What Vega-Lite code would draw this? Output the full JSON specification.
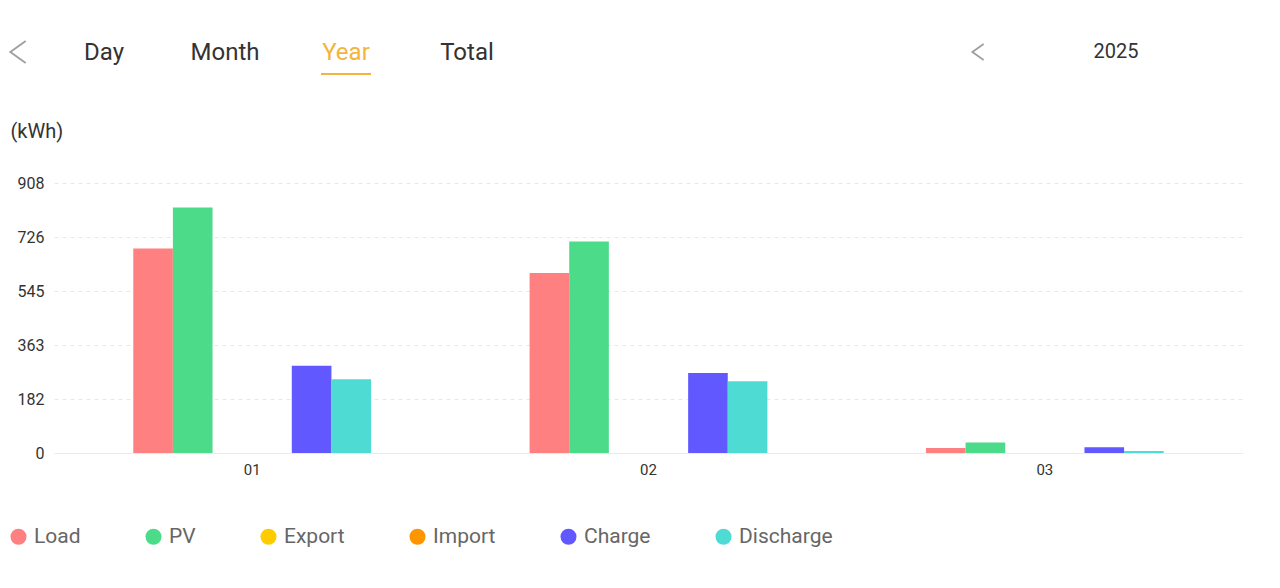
{
  "$schema": "https://vega.github.io/schema/vega-lite/v6.json",
  "width": 1189,
  "height": 270,
  "autosize": {"type": "none"},
  "padding": {"left": 54, "top": 183, "right": 37, "bottom": 135},
  "background": "#ffffff",
  "config": {"font": "Roboto", "view": {"stroke": null}},
  "datasets": {
    "energy": [
      {"month": "01", "series": "Load", "value": 688},
      {"month": "01", "series": "PV", "value": 826},
      {"month": "01", "series": "Export", "value": 0},
      {"month": "01", "series": "Import", "value": 0},
      {"month": "01", "series": "Charge", "value": 293},
      {"month": "01", "series": "Discharge", "value": 248},
      {"month": "02", "series": "Load", "value": 605},
      {"month": "02", "series": "PV", "value": 711},
      {"month": "02", "series": "Export", "value": 0},
      {"month": "02", "series": "Import", "value": 0},
      {"month": "02", "series": "Charge", "value": 269},
      {"month": "02", "series": "Discharge", "value": 241},
      {"month": "03", "series": "Load", "value": 17},
      {"month": "03", "series": "PV", "value": 35},
      {"month": "03", "series": "Export", "value": 0},
      {"month": "03", "series": "Import", "value": 0},
      {"month": "03", "series": "Charge", "value": 19},
      {"month": "03", "series": "Discharge", "value": 7}
    ],
    "tabs": [{"tab": "Day"}, {"tab": "Month"}, {"tab": "Year"}, {"tab": "Total"}],
    "active": [{"tab": "Year"}],
    "nav": [{"nav": "prev-tab"}, {"nav": "prev-year"}],
    "period": [{"year": "2025"}]
  },
  "layer": [
    {
      "data": {"name": "energy"},
      "mark": {"type": "bar"},
      "encoding": {
        "x": {
          "field": "month",
          "type": "nominal",
          "sort": null,
          "scale": {"paddingInner": 0.4, "paddingOuter": 0.2},
          "axis": {
            "title": null,
            "labelAngle": 0,
            "labelFontSize": 15,
            "labelColor": "#333333",
            "labelPadding": 9,
            "ticks": false,
            "domain": true,
            "domainColor": "#ebebeb",
            "domainWidth": 1
          }
        },
        "xOffset": {
          "field": "series",
          "type": "nominal",
          "sort": ["Load", "PV", "Export", "Import", "Charge", "Discharge"],
          "scale": {"paddingInner": 0, "paddingOuter": 0}
        },
        "y": {
          "field": "value",
          "type": "quantitative",
          "scale": {"domain": [0, 908], "nice": false, "zero": true},
          "axis": {
            "values": [0, 181.6, 363.2, 544.8, 726.4, 908],
            "format": ".0f",
            "labelFontSize": 16,
            "labelColor": "#333333",
            "labelPadding": 10,
            "ticks": false,
            "domain": false,
            "grid": true,
            "gridColor": "#e8e8e8",
            "gridDash": [4, 4],
            "title": "(kWh)",
            "titleAngle": 0,
            "titleAlign": "left",
            "titleBaseline": "middle",
            "titleX": -44,
            "titleY": -52,
            "titleFontSize": 20,
            "titleFontWeight": "normal",
            "titleColor": "#333333"
          }
        },
        "color": {
          "field": "series",
          "type": "nominal",
          "scale": {
            "domain": ["Load", "PV", "Export", "Import", "Charge", "Discharge"],
            "range": ["#ff8080", "#4cdb88", "#ffcc00", "#ff9500", "#6159ff", "#4ddbd3"]
          },
          "legend": {
            "orient": "none",
            "legendX": -46,
            "legendY": 343,
            "direction": "horizontal",
            "title": null,
            "symbolType": "circle",
            "symbolSize": 256,
            "symbolStrokeWidth": 0,
            "labelFontSize": 21,
            "labelColor": "#666666",
            "labelOffset": 5,
            "columnPadding": 62,
            "padding": 0
          }
        }
      }
    },
    {
      "data": {"name": "tabs"},
      "mark": {"type": "text", "fontSize": 24, "font": "Roboto", "baseline": "alphabetic"},
      "encoding": {
        "x": {"field": "tab", "type": "nominal", "sort": null, "scale": {"type": "point", "range": [50, 413], "padding": 0}, "axis": null},
        "y": {"field": "tab", "type": "nominal", "scale": {"type": "point", "range": [-123, -123]}, "axis": null},
        "text": {"field": "tab"},
        "color": {"condition": {"test": "datum.tab === 'Year'", "value": "#f4b43c"}, "value": "#333333"}
      }
    },
    {
      "data": {"name": "active"},
      "mark": {"type": "tick", "orient": "horizontal", "size": 50, "thickness": 2, "color": "#f4b43c", "opacity": 1},
      "encoding": {
        "x": {"field": "tab", "type": "nominal", "scale": {"type": "point", "domain": ["Day", "Month", "Year", "Total"], "range": [50, 413], "padding": 0}, "axis": null},
        "y": {"field": "tab", "type": "nominal", "scale": {"type": "point", "range": [-109, -109]}, "axis": null}
      }
    },
    {
      "data": {"name": "nav"},
      "mark": {"type": "point", "shape": "M0.7,-1L-0.7,0L0.7,1", "filled": false, "stroke": "#9e9e9e", "strokeWidth": 1.8, "opacity": 1},
      "encoding": {
        "x": {"field": "nav", "type": "nominal", "sort": null, "scale": {"type": "point", "range": [-36, 924], "padding": 0}, "axis": null},
        "y": {"field": "nav", "type": "nominal", "scale": {"type": "point", "range": [-131, -131]}, "axis": null},
        "size": {"condition": {"test": "datum.nav === 'prev-tab'", "value": 484}, "value": 256}
      }
    },
    {
      "data": {"name": "period"},
      "mark": {"type": "text", "fontSize": 20, "font": "Roboto", "color": "#333333", "baseline": "middle"},
      "encoding": {
        "x": {"field": "year", "type": "nominal", "scale": {"type": "point", "range": [1062, 1062]}, "axis": null},
        "y": {"field": "year", "type": "nominal", "scale": {"type": "point", "range": [-131, -131]}, "axis": null},
        "text": {"field": "year"}
      }
    }
  ],
  "resolve": {"scale": {"x": "independent", "y": "independent", "color": "independent", "size": "independent"}}
}
